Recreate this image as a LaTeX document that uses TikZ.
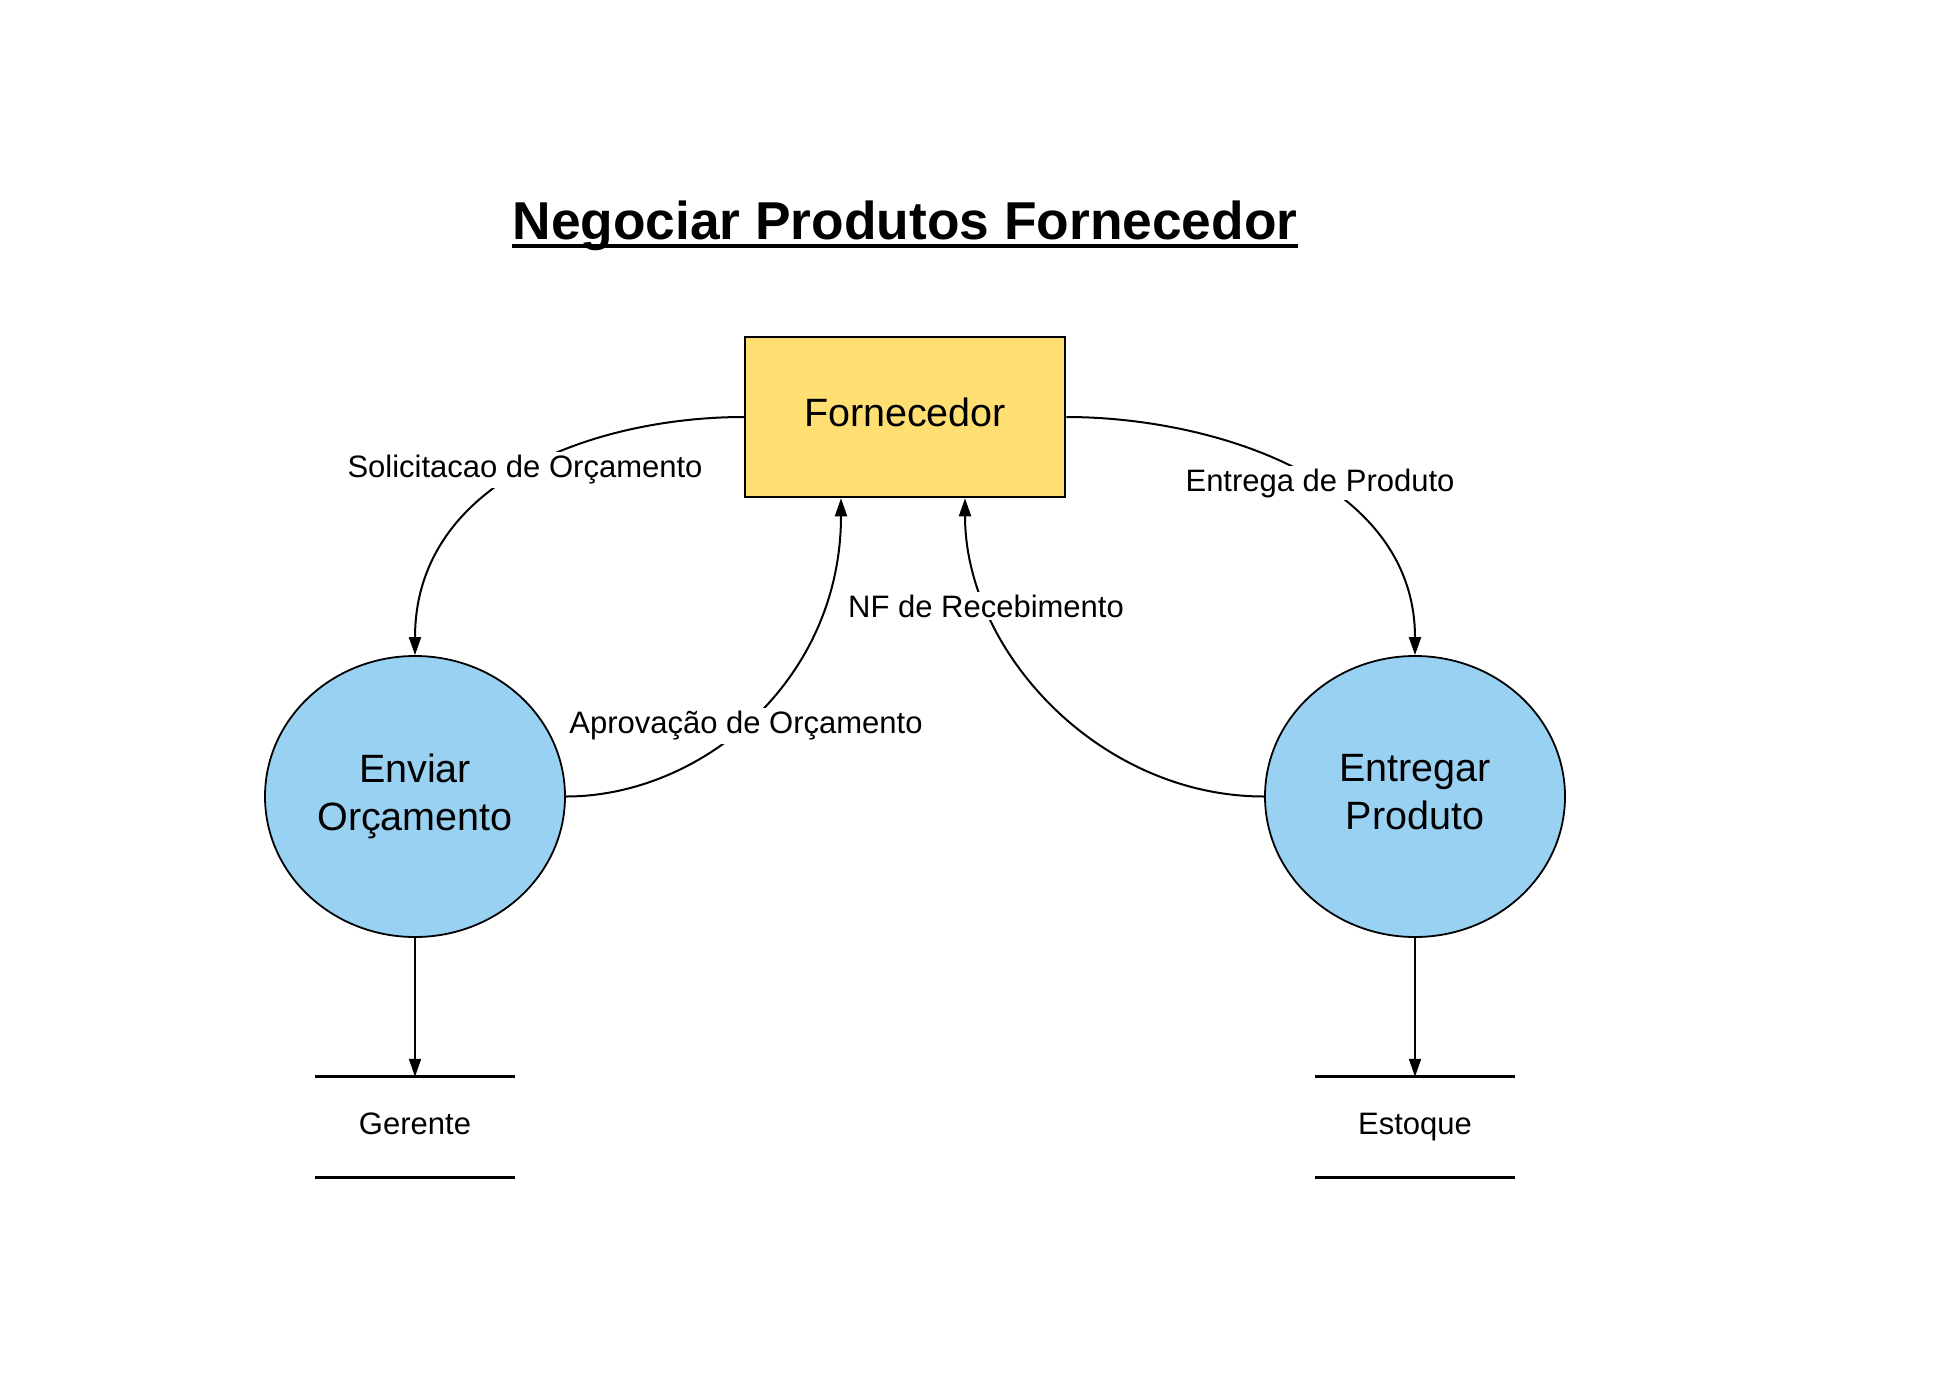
\documentclass[tikz,border=0pt]{standalone}
\usepackage{fontspec}
\setmainfont{Liberation Sans}
\usetikzlibrary{shapes.geometric,arrows.meta}
\definecolor{boxyellow}{HTML}{FFDF71}
\definecolor{procblue}{HTML}{99D1F2}
\begin{document}
\begin{tikzpicture}[x=1pt,y=-1pt,
  conn/.style={line width=2pt,-{Triangle[length=18pt,width=12pt]}},
  procbox/.style={draw,line width=2.5pt,fill=boxyellow,minimum width=320pt,minimum height=160pt,inner sep=0pt,text depth=10pt,font=\fontsize{39.5}{47}\selectfont},
  proc/.style={ellipse,draw,line width=1.8pt,fill=procblue,minimum width=300pt,minimum height=281pt,inner sep=0pt,align=center,font=\fontsize{39.5}{48}\selectfont},
  store/.style={minimum width=200pt,minimum height=100pt,inner sep=0pt,text depth=6.5pt,font=\fontsize{31}{37}\selectfont},
  storeline/.style={line width=2.7pt},
  lbl/.style={fill=white,inner sep=3pt,font=\fontsize{31}{37}\selectfont}]
\useasboundingbox (0,0) rectangle (1933,1381);
% title
\node[font=\bfseries\fontsize{53.3}{60}\selectfont,anchor=base,inner sep=0pt] (title) at (905,239) {Negociar Produtos Fornecedor};
\draw[line width=3.5pt] ([yshift=-7pt]title.base west) -- ([yshift=-7pt]title.base east);
% nodes
\node[procbox] (forn) at (905,417) {Fornecedor};
\node[proc] (env) at (415,796.5) {Enviar\\Orçamento};
\node[proc] (ent) at (1415,796.5) {Entregar\\Produto\rule[-8.3pt]{0pt}{0pt}};
\node[store] (ger) at (415,1127) {Gerente};
\node[store] (est) at (1415,1127) {Estoque};
\draw[storeline] (ger.north west) -- (ger.north east);
\draw[storeline] (ger.south west) -- (ger.south east);
\draw[storeline] (est.north west) -- (est.north east);
\draw[storeline] (est.south west) -- (est.south east);
% connectors
\draw[conn] (forn.west) .. controls +(-145,0) and +(0,-176) .. (env.north);
\draw[conn] (env.east) .. controls +(135,0) and +(0,183) .. ([xshift=-64pt]forn.south);
\draw[conn] (ent.west) .. controls +(-165,0) and +(0,153) .. ([xshift=60pt]forn.south);
\draw[conn] (forn.east) .. controls +(145,0) and +(0,-176) .. (ent.north);
\draw[conn] (env.south) -- (ger.north);
\draw[conn] (ent.south) -- (est.north);
% labels
\node[lbl] (l1) at (525,470) {Solicitacao de Orçamento};
\node[lbl] (l2) at (746,726) {Aprovação de Orçamento};
\node[lbl] (l3) at (986,606) {NF de Recebimento};
\node[lbl] (l4) at (1320,483) {Entrega de Produto};
\end{tikzpicture}
\end{document}
